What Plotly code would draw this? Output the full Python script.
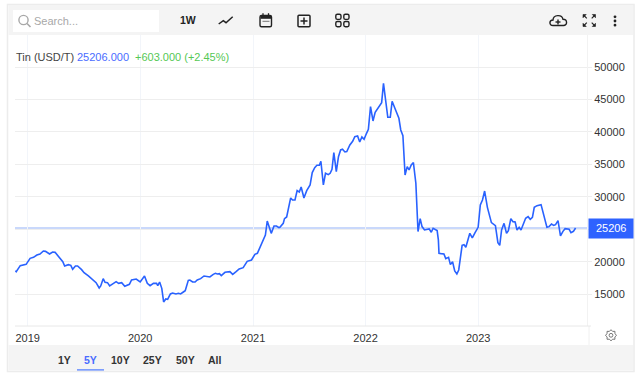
import math
import pandas as pd
import plotly.graph_objects as go

# Tin price, USD/T: days after 2019-01-01 and the price read at that day
days = [-40, -37, -24, -5, 8, 19, 30, 40, 51, 58, 71, 81, 89, 105, 114, 120, 132, 140, 146, 155, 162, 175, 183, 197, 208,
        222, 232, 237, 245, 251, 259, 266, 287, 295, 305, 315, 330, 337, 352, 365, 379, 388, 397, 408, 418, 422, 428,
        435, 441, 448, 454, 463, 470, 481, 489, 496, 505, 511, 521, 526, 535, 543, 550, 561, 572, 583, 591,
        602, 609, 615, 622, 628, 640, 656, 665, 676, 686, 699, 712, 726, 737, 745, 756, 766, 771, 777, 784, 790, 799,
        807, 815, 818, 829, 833, 840, 853, 859, 867, 874, 881, 887, 896, 905, 911, 916, 923, 931, 938, 946, 951, 959,
        966, 975, 981, 987, 993, 1001, 1008, 1015, 1021, 1029, 1035, 1045, 1054, 1061, 1070, 1077, 1084, 1091, 1099,
        1105, 1112, 1120, 1127, 1140, 1148, 1154, 1161, 1168, 1176, 1182, 1191, 1198, 1204, 1210, 1217, 1224, 1231,
        1237, 1244, 1251, 1259, 1266, 1273, 1279, 1287, 1302, 1309, 1315, 1324, 1328, 1332,
        1334, 1341, 1350, 1356, 1365, 1371, 1378, 1385, 1392, 1398, 1405, 1409, 1415, 1421, 1434, 1442, 1451, 1461,
        1468, 1475, 1482, 1491, 1504, 1517, 1525, 1531, 1537, 1545, 1553, 1559, 1567, 1574, 1581, 1587, 1594, 1600,
        1615, 1623, 1630, 1637, 1643, 1652, 1665, 1684, 1691, 1699, 1706, 1712, 1720, 1728, 1736, 1743, 1756, 1762,
        1770, 1777]
prices = [18640, 18487, 19410, 19615, 20540, 20692, 21050, 21205, 21667, 21616, 21205, 21513, 21462, 20540, 20025, 19359,
          19564, 19461, 18846, 19359, 19359, 18794, 18333, 17820, 17307, 16794, 15973, 16280, 17409, 16845, 16794, 16280,
          16947, 16691, 16794, 16230, 16537, 17204, 17358, 16896, 17820, 16691, 16332, 16691, 16691, 16332, 16896, 15921,
          13818, 14280, 14229, 15050, 15203, 15050, 15152, 15050, 15358, 15562, 17153, 17204, 16896, 16896, 17204, 17409,
          17820, 17768, 17666,
          18077, 18230, 18128, 18179, 17871, 18384, 18487, 18077, 18487, 18897, 19102, 20077, 20283, 21155, 21308, 22591,
          23463, 24130, 26285, 25259, 24386, 25515, 25515, 25259, 25310, 25940, 26658, 26915, 29839, 29531, 29531, 30967,
          30762, 31532, 29839, 30967, 31583, 31839, 33738, 34507, 34866, 34866, 35482, 31839, 33635, 33430, 33635, 34251,
          36816, 33892, 36200, 37226, 37329, 36918, 36969, 37995, 38560, 39278, 39381, 38457, 39227, 38868, 39791, 40407,
          43895, 41689, 43023, 44049, 44511, 47486, 44408, 42253, 42253, 44716, 43639, 42869, 42100, 40304, 39432, 33378,
          34661, 34148, 34918, 35277, 32096, 24658, 26658, 25427, 24914, 25068, 24555, 25170, 24914, 24811, 23375,
          21313, 21262, 21210, 20492, 20697, 19569, 20030, 18594, 18132, 18748, 21313, 22544, 22647, 22236, 24391, 23673,
          24494, 25314, 28751, 29521, 30906, 28392, 26033, 25571, 22955, 22544, 24904, 25930, 24391, 24801, 26648, 26186,
          26135, 24904, 25314, 24904, 26700, 26956, 26546, 26853, 28392, 28649, 28803, 25314, 25417, 25827, 25622, 25725,
          26340, 23981, 24699, 25109, 25006, 24494, 24699, 25206]
price_ticks = [15000, 20000, 25000, 30000, 35000, 40000, 45000, 50000]
# the 25000 label is hidden behind the latest-price tag
price_tick_text = ["15000", "20000", "", "30000", "35000", "40000", "45000", "50000"]
range_labels = ["1Y", "5Y", "10Y", "25Y", "50Y", "All"]
range_centres = [64, 90.5, 120, 152.5, 185, 215]

W, H = 640, 376
L, R, T, B = 15, 587, 35, 326
FONT = "Liberation Sans"
BLUE = "#2962ff"
INK = "#333333"


def px(x):
    return (x - L) / (R - L)


def py(y):
    return (B - y) / (B - T)


def pth(cmds):
    """cmds: list of (letter, x, y, ...) in page pixels -> plotly path in paper coordinates"""
    out = []
    for c in cmds:
        out.append(c[0])
        vals = c[1:]
        pairs = [f"{px(vals[i]):.5f},{py(vals[i + 1]):.5f}" for i in range(0, len(vals), 2)]
        out.append(" ".join(pairs))
    return " ".join(out)


shapes = []


def rect(x0, y0, x1, y1, fill=None, line=None, w=1, layer="below"):
    shapes.append(dict(type="rect", xref="paper", yref="paper", x0=px(x0), x1=px(x1), y0=py(y0), y1=py(y1),
                       fillcolor=fill or "rgba(0,0,0,0)", line=dict(color=line or "rgba(0,0,0,0)", width=w if line else 0),
                       layer=layer))


def stroke(cmds, color="#222222", w=1.5, fill=None):
    shapes.append(dict(type="path", xref="paper", yref="paper", path=pth(cmds),
                       line=dict(color=color, width=w), fillcolor=fill or "rgba(0,0,0,0)", layer="above"))


def rounded(x0, y0, x1, y1, r, w=1.4):
    stroke([("M", x0 + r, y0), ("L", x1 - r, y0), ("Q", x1, y0, x1, y0 + r), ("L", x1, y1 - r),
            ("Q", x1, y1, x1 - r, y1), ("L", x0 + r, y1), ("Q", x0, y1, x0, y1 - r), ("L", x0, y0 + r),
            ("Q", x0, y0, x0 + r, y0), ("Z",)], w=w)


def oval(cx, cy, r, fill=None, line=None, w=1.3):
    shapes.append(dict(type="circle", xref="paper", yref="paper", x0=px(cx - r), x1=px(cx + r), y0=py(cy - r),
                       y1=py(cy + r), fillcolor=fill or "rgba(0,0,0,0)",
                       line=dict(color=line or "rgba(0,0,0,0)", width=w if line else 0), layer="above"))


# panel and bars
rect(7.5, 4.5, 634, 371.5, fill="#ffffff", line="#ececec", w=1.5)
rect(8.5, 5, 633, 35, fill="#f4f4f4")
rect(8.5, 345, 633, 370.5, fill="#f4f4f4")
rect(13, 10, 159, 32, fill="#ffffff")
# vertical divider beside the x axis
stroke([("M", 589, 326), ("L", 589, 345)], color="#f0f0f0", w=1)
stroke([("M", 15, 326), ("L", 591, 326)], color="#e8e8e8", w=1)
# selected range underline
rect(77, 369.3, 104, 370.5, fill="#4a78ff")
# search glass
oval(23.5, 20, 4.6, line="#a8a8a8", w=1.4)
stroke([("M", 27, 23.5), ("L", 30.5, 27)], color="#a8a8a8", w=1.6)
# trend icon
stroke([("M", 218.7, 24), ("L", 223.3, 20.7), ("L", 226, 22.7), ("L", 232.7, 16.7)], w=1.5)
# calendar icon
rounded(260, 15.5, 271.5, 26.7, 1.5)
rect(260.5, 16, 271, 18.8, fill="#222222", layer="above")
stroke([("M", 263, 13.2), ("L", 263, 16)], w=1.3)
stroke([("M", 268.5, 13.2), ("L", 268.5, 16)], w=1.3)
stroke([("M", 262.5, 21.3), ("L", 269.5, 21.3)], color="#777777", w=1)
# plus box
rounded(298, 15.2, 310, 26.7, 1, w=1.5)
stroke([("M", 300.5, 21), ("L", 307.5, 21)], w=1.5)
stroke([("M", 304, 17.5), ("L", 304, 24.5)], w=1.5)
# four-squares icon
for x0 in (335.8, 343.8):
    for y0 in (14.2, 21.5):
        rounded(x0, y0, x0 + 5.2, y0 + 5.2, 1.6)
# cloud icon
stroke([("M", 553, 25.5), ("C", 548.8, 25.5, 549, 20.2, 553, 20), ("C", 553.2, 14.5, 562, 14, 563, 19.3),
        ("C", 567.8, 19.3, 567.5, 25.5, 563.5, 25.5), ("Z",)], w=1.4)
stroke([("M", 555.5, 22), ("L", 560.5, 22)], w=1.4)
stroke([("M", 558, 19.5), ("L", 558, 24.5)], w=1.4)
# expand icon
for cx, cy, sx, sy in ((583, 14.5, 1, 1), (595.5, 14.5, -1, 1), (583, 26.5, 1, -1), (595.5, 26.5, -1, -1)):
    stroke([("M", cx, cy), ("L", cx + sx * 3.2, cy), ("L", cx, cy + sy * 3.2), ("Z",)], w=0.6, fill="#222222")
    stroke([("M", cx + sx * 1, cy + sy * 1), ("L", cx + sx * 3.8, cy + sy * 3.8)], w=1.1)
# three dots
for cy in (16.8, 21, 25.2):
    oval(615, cy, 1.4, fill="#222222")
# gear
gear = []
for i in range(16):
    a = 2 * math.pi * i / 16
    r = 5.6 if i % 2 == 0 else 4.2
    gear.append(("M" if i == 0 else "L", 611 + r * math.cos(a), 335.3 + r * math.sin(a)))
gear.append(("Z",))
stroke(gear, color="#777777", w=1)
oval(611, 335.3, 1.9, line="#777777", w=1)

# reference level of the latest price
shapes.append(dict(type="line", xref="paper", yref="y", x0=0, x1=1, y0=prices[-1], y1=prices[-1],
                   line=dict(color="#c9d8fb", width=2), layer="below"))

annotations = []


def label(x, y, text, color=INK, size=11, bold=False, anchor="left"):
    annotations.append(dict(xref="paper", yref="paper", x=px(x), y=py(y), text=f"<b>{text}</b>" if bold else text,
                            showarrow=False, xanchor=anchor, yanchor="middle",
                            font=dict(family=FONT, size=size, color=color), xshift=0, yshift=0,
                            borderpad=0, borderwidth=0))


label(33.5, 21, "Search...", color="#a8a8a8", size=11)
label(187.5, 20.5, "1W", color="#222222", size=10.5, bold=True, anchor="center")
label(16, 57.5, "Tin (USD/T)", color="#444444")
label(77.2, 57.5, f"{prices[-1]}.000", color="#4a6cff")
label(135, 57.5, "+603.000 (+2.45%)", color="#55c855")
for name, cx in zip(range_labels, range_centres):
    label(cx, 360, name, color="#4a6cff" if name == "5Y" else "#333333", size=10.5, bold=True, anchor="center")
annotations.append(dict(xref="paper", yref="y", x=px(588.3), y=prices[-1], xanchor="left", yanchor="middle",
                        text=str(prices[-1]), showarrow=False, bgcolor="#2e62ff", width=44.4, height=18.7,
                        align="center", font=dict(family=FONT, size=11, color="#ffffff"), borderpad=0))

dates = pd.Timestamp("2019-01-01") + pd.to_timedelta(days, unit="D")

fig = go.Figure(go.Scatter(x=dates, y=prices, mode="lines", line=dict(color=BLUE, width=1.6), hoverinfo="skip"))
fig.update_layout(
    width=W, height=H, autosize=False,
    margin=dict(l=L, r=W - R, t=T, b=H - B, autoexpand=False, pad=0),
    paper_bgcolor="#ffffff", plot_bgcolor="rgba(0,0,0,0)", showlegend=False,
    shapes=shapes, annotations=annotations,
    font=dict(family=FONT, size=11, color=INK),
    xaxis=dict(type="date", range=[pd.Timestamp("2019-01-01") - pd.Timedelta(days=41),
                                   pd.Timestamp("2019-01-01") + pd.Timedelta(days=1814)],
               dtick="M12", tick0="2019-01-01", tickformat="%Y", showgrid=True, gridcolor="#f2f5fa", gridwidth=1,
               ticks="outside", ticklen=2, tickcolor="rgba(0,0,0,0)", showline=False, zeroline=False,
               tickfont=dict(family=FONT, size=11, color=INK)),
    yaxis=dict(side="right", range=[10120, 54928], tickvals=price_ticks, ticktext=price_tick_text,
               showgrid=True, gridcolor="#eeeeee", gridwidth=1, ticks="outside", ticklen=4, tickcolor="#eeeeee",
               showline=True, linecolor="#f2f2f2", linewidth=1, zeroline=False,
               tickfont=dict(family=FONT, size=11, color=INK)),
)
fig.write_html("out.html", config=dict(displayModeBar=False),
               post_script="document.body.style.margin='0';document.body.style.overflow='hidden';")
